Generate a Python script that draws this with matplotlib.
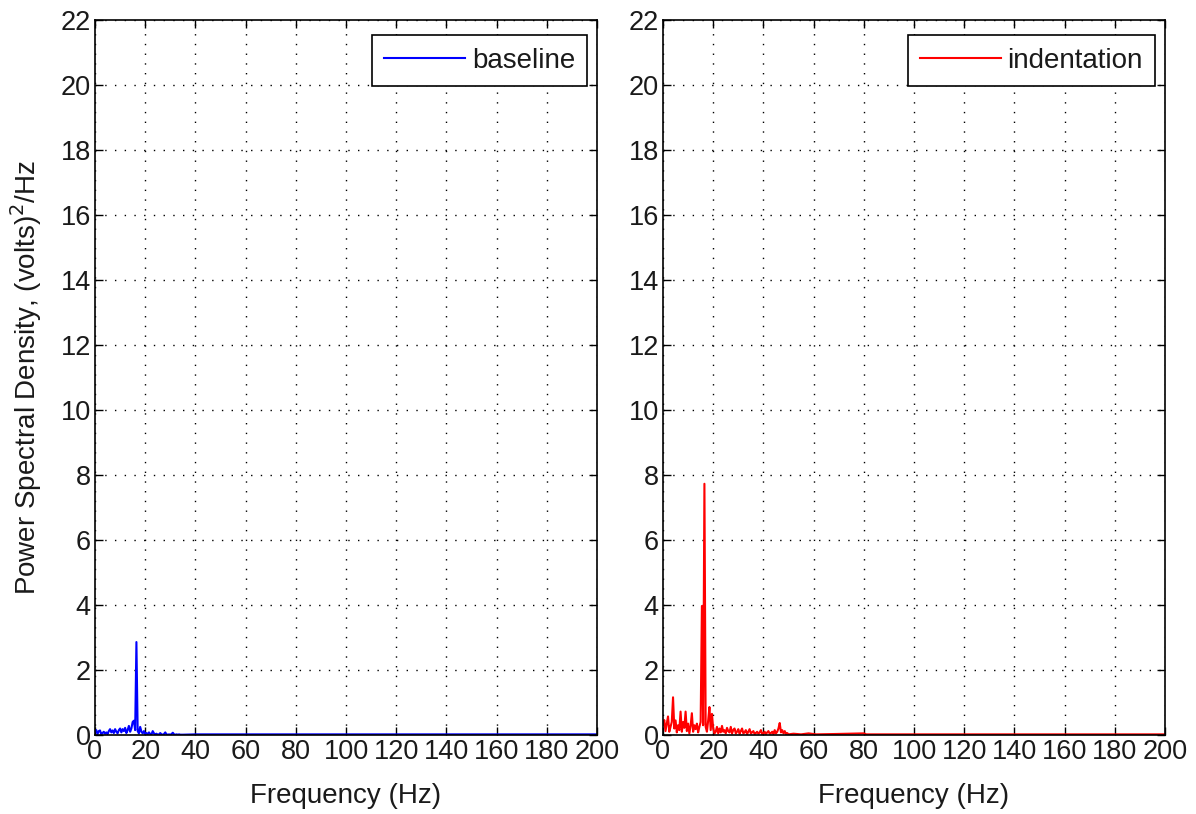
import matplotlib
matplotlib.use("Agg")
import matplotlib.pyplot as plt

plt.rcParams['font.family'] = ['Liberation Sans', 'DejaVu Sans']

# ---- data ----
step = 0.5
baseline_psd_low = [0.10, 0.15, 0.03, 0.12, 0.14, 0.02, 0.06, 0.10, 0.04, 0.08,
                    0.03, 0.12, 0.18, 0.08, 0.14, 0.06, 0.18, 0.10, 0.05, 0.15,
                    0.20, 0.08, 0.18, 0.12, 0.22, 0.06, 0.15, 0.28, 0.10, 0.20,
                    0.40, 0.44, 0.15, 2.86, 0.12, 0.05, 0.25, 0.10, 0.05, 0.12,
                    0.03, 0.06, 0.02, 0.08, 0.03, 0.02, 0.12, 0.05, 0.02, 0.04,
                    0.01, 0.02, 0.06, 0.02, 0.01, 0.03, 0.08, 0.02, 0.01, 0.02,
                    0.01, 0.03, 0.07, 0.02, 0.01, 0.02, 0.01, 0.02, 0.01, 0.01,
                    0.01]
baseline_tail_freq = [40, 60, 100, 150, 200]
baseline_tail_psd = [0.02, 0.02, 0.02, 0.02, 0.02]

indent_psd_low = [0.30, 0.46, 0.12, 0.35, 0.57, 0.10, 0.25, 0.40, 1.16, 0.20,
                  0.45, 0.08, 0.30, 0.15, 0.72, 0.10, 0.40, 0.22, 0.72, 0.12,
                  0.35, 0.05, 0.28, 0.67, 0.10, 0.30, 0.18, 0.35, 0.08, 0.25,
                  0.40, 3.97, 0.30, 7.73, 0.25, 0.10, 0.45, 0.86, 0.15, 0.65,
                  0.20, 0.05, 0.10, 0.25, 0.05, 0.20, 0.08, 0.28, 0.10, 0.15,
                  0.05, 0.22, 0.12, 0.08, 0.25, 0.05, 0.15, 0.20, 0.05, 0.10,
                  0.18, 0.04, 0.12, 0.20, 0.05, 0.08, 0.15, 0.03, 0.10, 0.18,
                  0.05, 0.08, 0.12, 0.03, 0.06, 0.10, 0.04, 0.08, 0.15, 0.03,
                  0.05, 0.10, 0.03, 0.08, 0.12, 0.04, 0.06, 0.10, 0.03, 0.15,
                  0.05, 0.10, 0.20, 0.37, 0.08, 0.15, 0.05, 0.12, 0.03, 0.06,
                  0.02]
indent_tail_freq = [52, 55, 58, 61, 68, 80, 81, 100, 120, 150, 200]
indent_tail_psd = [0.04, 0.02, 0.05, 0.02, 0.03, 0.05, 0.02, 0.02, 0.02, 0.02, 0.02]

xticks = list(range(0, 201, 20))
yticks = list(range(0, 23, 2))

b_freq = [i * step for i in range(len(baseline_psd_low))] + baseline_tail_freq
b_psd = baseline_psd_low + baseline_tail_psd
i_freq = [i * step for i in range(len(indent_psd_low))] + indent_tail_freq
i_psd = indent_psd_low + indent_tail_psd

TXT = '#1a1a1a'
fig = plt.figure(figsize=(11.96, 8.14), dpi=100)
W, H = 1196, 814
ax1 = fig.add_axes([95 / W, (H - 735) / H, 502 / W, 715 / H])
ax2 = fig.add_axes([663 / W, (H - 735) / H, 502 / W, 715 / H])

for ax, f, p, col, lab in [(ax1, b_freq, b_psd, 'blue', 'baseline'),
                           (ax2, i_freq, i_psd, 'red', 'indentation')]:
    ax.plot(f, p, color=col, lw=1.5, label=lab)
    ax.set_xlim(0, 200)
    ax.set_ylim(0, 22)
    ax.set_xticks(xticks)
    ax.set_yticks(yticks)
    ax.grid(True, color='black', linestyle=(0, (1, 6)), linewidth=1.0)
    ax.tick_params(direction='in', top=True, right=True, length=6, width=1,
                   labelsize=19.5, colors='black', labelcolor=TXT, pad=3)
    for s in ax.spines.values():
        s.set_linewidth(1.2)
    ax.set_xlabel('Frequency (Hz)', fontsize=20, labelpad=13, color=TXT)
    leg = ax.legend(loc='upper right', bbox_to_anchor=(0.981, 0.979),
                    borderaxespad=0, fontsize=20, fancybox=False, framealpha=1,
                    edgecolor='black', handlelength=2.9,
                    borderpad=0.45, handletextpad=0.25)
    leg.get_frame().set_linewidth(1.2)
    for t in leg.get_texts():
        t.set_color(TXT)

ax1.set_ylabel('Power Spectral Density, (volts)$^2$/Hz', fontsize=20,
               labelpad=12, color=TXT)

fig.savefig('out.png', dpi=100)
